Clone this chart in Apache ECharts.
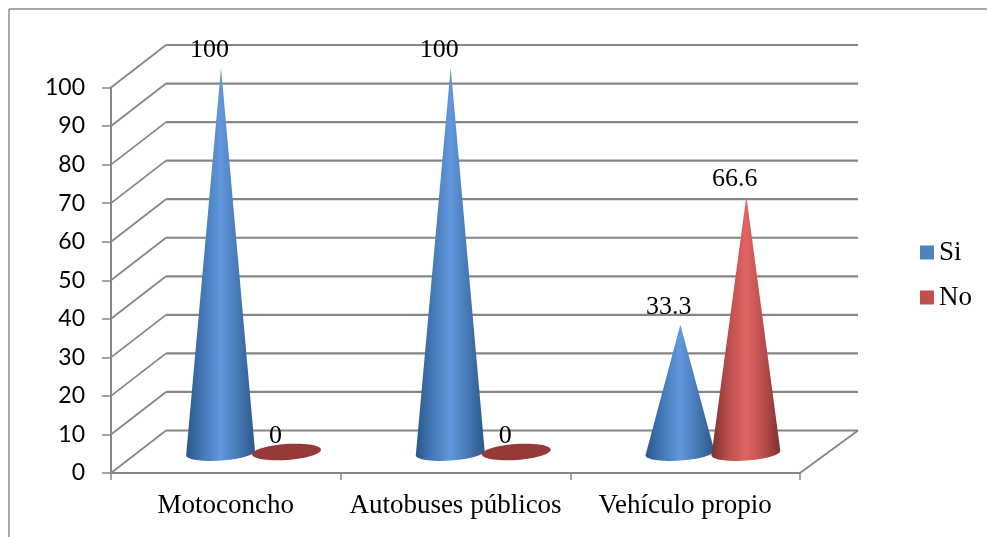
<!DOCTYPE html>
<html>
<head>
<meta charset="utf-8">
<script src="https://cdn.jsdelivr.net/npm/echarts@6/dist/echarts.min.js"></script>
<style>html,body{margin:0;padding:0;background:#fff}#c{width:987px;height:537px}</style>
</head>
<body>
<div id="c"></div>
<script>
var categories = ['Motoconcho', 'Autobuses públicos', 'Vehículo propio'];
var siValues = [100, 100, 33.3];
var noValues = [0, 0, 66.6];
var tickValues = [0, 10, 20, 30, 40, 50, 60, 70, 80, 90, 100];

var GRAY = '#868686';
var SERIF = '"Liberation Serif", serif';
var DEPTH_Y = 42.5, DEPTH_X_L = 55, DEPTH_X_R = 58;

function wallItem(params, api) {
  var cs = params.coordSys;
  var y = api.coord([0, api.value(1)])[1];
  var x0 = cs.x, x1 = cs.x + cs.width;
  var style = { stroke: GRAY, lineWidth: 2.2 };
  var kids = [
    { type: 'line', shape: { x1: x0, y1: y, x2: x0 + DEPTH_X_L, y2: y - DEPTH_Y }, style: { stroke: GRAY, lineWidth: 1.8 } },
    { type: 'line', shape: { x1: x0 + DEPTH_X_L, y1: y - DEPTH_Y, x2: x1 + DEPTH_X_R, y2: y - DEPTH_Y }, style: style }
  ];
  if (api.value(1) === 0) {
    kids.push({ type: 'line', shape: { x1: x1, y1: y, x2: x1 + DEPTH_X_R, y2: y - DEPTH_Y }, style: { stroke: GRAY, lineWidth: 1.8 } });
  }
  return { type: 'group', children: kids };
}

function coneRenderer(offset, stops, flatColor) {
  return function (params, api) {
    var idx = api.value(0), val = api.value(1);
    var base = api.coord([idx, 0]);
    var top = api.coord([idx, val]);
    var cx = base[0] + offset, cy = base[1] - (val > 0 ? 20 : 21);
    var apexY = top[1] - 20;
    var rx = 34.5, ry = val > 0 ? 7.6 : 8, tilt = -4 * Math.PI / 180;
    var ell = function (t) {
      var ex = rx * Math.cos(t), ey = ry * Math.sin(t);
      return [cx + ex * Math.cos(tilt) - ey * Math.sin(tilt), cy + ex * Math.sin(tilt) + ey * Math.cos(tilt)];
    };
    var pts = [], i;
    var kids = [];
    if (val > 0) {
      for (i = 0; i <= 40; i++) pts.push(ell(Math.PI - Math.PI * i / 40));
      pts.push([cx + 0.5, apexY]);
      kids.push({
        type: 'polygon', shape: { points: pts },
        style: { fill: new echarts.graphic.LinearGradient(0, 0, 1, 0, stops) }
      });
    } else {
      for (i = 0; i < 60; i++) pts.push(ell(2 * Math.PI * i / 60));
      kids.push({ type: 'polygon', shape: { points: pts }, style: { fill: flatColor } });
    }
    kids.push({
      type: 'text', z2: 100,
      style: {
        x: cx - 11, y: apexY - 17, text: String(val), align: 'center', verticalAlign: 'middle',
        fill: '#000', font: '26px ' + SERIF
      }
    });
    return { type: 'group', children: kids };
  };
}

var blueStops = [
  { offset: 0, color: '#2b5687' }, { offset: 0.15, color: '#3a6ca8' },
  { offset: 0.5, color: '#6198dc' }, { offset: 0.85, color: '#3c6ca6' }, { offset: 1, color: '#2c5888' }
];
var redStops = [
  { offset: 0, color: '#7d302e' }, { offset: 0.2, color: '#b04a48' },
  { offset: 0.5, color: '#e26464' }, { offset: 0.8, color: '#b04a48' }, { offset: 1, color: '#7d302e' }
];

var chart = echarts.init(document.getElementById('c'), null, { renderer: 'canvas' });
chart.setOption({
  animation: false,
  backgroundColor: '#fff',
  grid: { left: 111, right: 187, top: 87.5, bottom: 64, containLabel: false },
  graphic: [
    { type: 'line', silent: true, shape: { x1: 9, y1: 9, x2: 987, y2: 9 }, style: { stroke: '#8c8c8c', lineWidth: 1.5 } },
    { type: 'line', silent: true, shape: { x1: 9, y1: 9, x2: 9, y2: 537 }, style: { stroke: '#8c8c8c', lineWidth: 1.5 } }
  ],
  legend: {
    data: ['Si', 'No'], orient: 'vertical', left: 915, top: 234, icon: 'rect',
    itemWidth: 14, itemHeight: 14, itemGap: 18,
    textStyle: { fontFamily: SERIF, fontSize: 27, color: '#000', padding: [0, 0, 0, 0] }
  },
  xAxis: {
    type: 'category', data: categories, boundaryGap: true,
    axisLine: { show: true, lineStyle: { color: GRAY, width: 2 } },
    axisTick: { show: true, length: 7, alignWithLabel: false, lineStyle: { color: GRAY, width: 1.5 } },
    axisLabel: { margin: 19, fontFamily: SERIF, fontSize: 27, color: '#000', interval: 0 },
    splitLine: { show: false }
  },
  yAxis: {
    type: 'value', min: 0, max: 100, interval: 10,
    axisLine: { show: true, lineStyle: { color: GRAY, width: 2 } },
    axisTick: { show: true, length: 9, lineStyle: { color: GRAY, width: 1.5 } },
    axisLabel: { margin: 26, fontFamily: 'Lato', fontSize: 23, color: '#000' },
    splitLine: { show: false }
  },
  series: [
    { type: 'custom', name: 'walls', z: 1, silent: true, renderItem: wallItem,
      encode: { x: 0, y: 1 }, data: tickValues.map(function (v) { return [0, v]; }) },
    { type: 'custom', name: 'Si', z: 3, itemStyle: { color: '#4f81bd' }, renderItem: coneRenderer(-5.3, blueStops, '#2c5688'),
      encode: { x: 0, y: 1 }, data: siValues.map(function (v, i) { return [i, v]; }) },
    { type: 'custom', name: 'No', z: 4, itemStyle: { color: '#c0504d' }, renderItem: coneRenderer(60.7, redStops, '#953a38'),
      encode: { x: 0, y: 1 }, data: noValues.map(function (v, i) { return [i, v]; }) }
  ]
});
</script>
</body>
</html>
